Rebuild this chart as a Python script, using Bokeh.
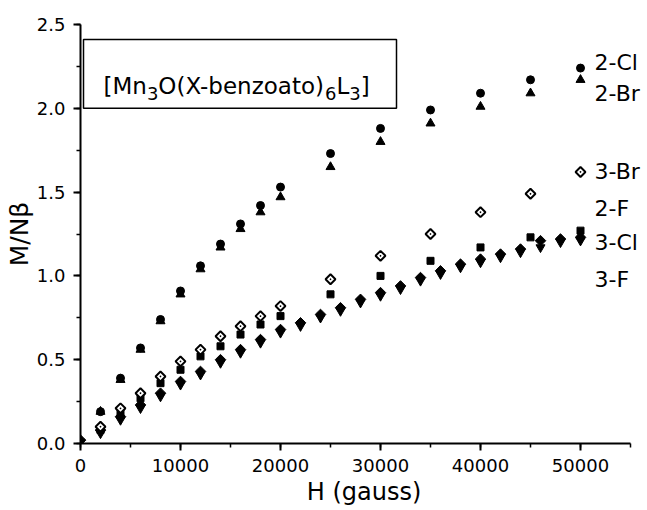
import math
from bokeh.plotting import figure
from bokeh.models import (Range1d, SingleIntervalTicker, NumeralTickFormatter,
                          BoxAnnotation, Label)
from bokeh.embed import file_html
from bokeh.resources import INLINE

# ---- data ----
H_a = [2000, 4000, 6000, 8000, 10000, 12000, 14000, 16000, 18000, 20000,
       25000, 30000, 35000, 40000, 45000, 50000]
m_2Cl = [0.19, 0.39, 0.57, 0.74, 0.91, 1.06, 1.19, 1.31, 1.42, 1.53,
         1.73, 1.88, 1.99, 2.09, 2.17, 2.24]
m_2Br = [0.19, 0.38, 0.56, 0.73, 0.89, 1.04, 1.17, 1.28, 1.38, 1.47,
         1.65, 1.80, 1.91, 2.01, 2.09, 2.17]
m_3Br = [0.10, 0.21, 0.30, 0.40, 0.49, 0.56, 0.64, 0.70, 0.76, 0.82,
         0.98, 1.12, 1.25, 1.38, 1.49, 1.62]
m_2F = [0.08, 0.18, 0.27, 0.36, 0.44, 0.52, 0.58, 0.65, 0.71, 0.76,
        0.89, 1.00, 1.09, 1.17, 1.23, 1.27]

H_b = [0, 2000, 4000, 6000, 8000, 10000, 12000, 14000, 16000, 18000, 20000,
       22000, 24000, 26000, 28000, 30000, 32000, 34000, 36000, 38000, 40000,
       42000, 44000, 46000, 48000, 50000]
m_3Cl = [0.02, 0.08, 0.16, 0.23, 0.30, 0.37, 0.43, 0.50, 0.56, 0.62, 0.68,
         0.72, 0.77, 0.81, 0.86, 0.90, 0.94, 0.99, 1.03, 1.07, 1.10,
         1.13, 1.16, 1.21, 1.22, 1.23]
m_3F = [0.01, 0.06, 0.14, 0.21, 0.28, 0.35, 0.41, 0.48, 0.54, 0.60, 0.66,
        0.70, 0.75, 0.79, 0.84, 0.88, 0.92, 0.97, 1.01, 1.05, 1.08,
        1.11, 1.14, 1.17, 1.20, 1.21]

series_names = ["2-Cl", "2-Br", "3-Br", "2-F", "3-Cl", "3-F"]
name_y = [2.275, 2.09, 1.62, 1.40, 1.20, 0.98]

x_ticks_interval = 10000
y_ticks_interval = 0.5

FONT = "DejaVu Sans"

p = figure(width=647, height=510, output_backend="svg", toolbar_location=None,
           x_range=Range1d(0, 56700), y_range=Range1d(0, 2.5),
           min_border_left=80, min_border_right=0, min_border_top=24,
           min_border_bottom=67,
           x_axis_label="H (gauss)", y_axis_label="M/Nβ")

p.xgrid.visible = False
p.ygrid.visible = False
p.outline_line_color = None
p.background_fill_color = "white"
p.border_fill_color = "white"

p.xaxis.ticker = SingleIntervalTicker(interval=x_ticks_interval, num_minor_ticks=2)
p.yaxis.ticker = SingleIntervalTicker(interval=y_ticks_interval, num_minor_ticks=2)
p.xaxis.bounds = (0, 55000)
p.xaxis.formatter = NumeralTickFormatter(format="0")
p.yaxis.formatter = NumeralTickFormatter(format="0.0")

for ax in (p.xaxis, p.yaxis):
    ax.axis_line_color = "black"
    ax.axis_line_width = 2
    ax.major_tick_line_color = "black"
    ax.major_tick_line_width = 2
    ax.minor_tick_line_color = "black"
    ax.minor_tick_line_width = 1.5
    ax.major_tick_in = 0
    ax.major_tick_out = 7
    ax.minor_tick_in = 0
    ax.minor_tick_out = 4
    ax.major_label_text_font = FONT
    ax.major_label_text_font_size = "18px"
    ax.major_label_text_color = "black"
    ax.axis_label_text_font = FONT
    ax.axis_label_text_font_style = "normal"
    ax.axis_label_text_color = "black"
p.xaxis.axis_label_text_font_size = "24px"
p.yaxis.axis_label_text_font_size = "25px"
p.xaxis.major_label_standoff = 8
p.yaxis.major_label_standoff = 8
p.xaxis.axis_label_standoff = 3
p.yaxis.axis_label_standoff = 0

# ---- series ----
p.scatter(H_a, m_2Cl, marker="circle", size=8, color="black")
p.scatter(H_a, m_2Br, marker="triangle", size=9, color="black")
p.scatter(H_a, m_2F, marker="square", size=7, color="black")
p.scatter(H_b, m_3F, marker="inverted_triangle", size=9, color="black")
p.scatter(H_b, m_3Cl, marker="square", angle=math.pi / 4, size=7.5, color="black")
p.scatter(H_a, m_3Br, marker="square_dot", angle=math.pi / 4, size=7,
          fill_color="white", line_color="black", line_width=2)

# ---- series labels ----
for name, yy in zip(series_names, name_y):
    p.add_layout(Label(x=51400, y=yy, text=name, text_font=FONT,
                       text_font_size="22px", text_color="black",
                       text_align="left", text_baseline="middle"))

# ---- title box ----
p.add_layout(BoxAnnotation(left=300, right=31600, bottom=2.0, top=2.41,
                           fill_alpha=0, line_color="black", line_alpha=1,
                           line_width=1.5))
pieces = [("[Mn", False), ("3", True), ("O(X-benzoato)", False), ("6", True),
          ("L", False), ("3", True), ("]", False)]
widths = {"[Mn": 1.887, "O(X-benzoato)": 7.25, "L": 0.557, "]": 0.390,
          "3": 0.636, "6": 0.636}
main_size, sub_size = 23, 18
off = 0.0
for txt, sub in pieces:
    size = sub_size if sub else main_size
    p.add_layout(Label(x=2300, y=2.088 if sub else 2.136, x_offset=off,
                       text=txt, text_font=FONT,
                       text_font_size=f"{size}px", text_color="black",
                       text_align="left", text_baseline="alphabetic"))
    off += widths[txt] * size

open("out.html", "w").write(file_html(p, INLINE))
